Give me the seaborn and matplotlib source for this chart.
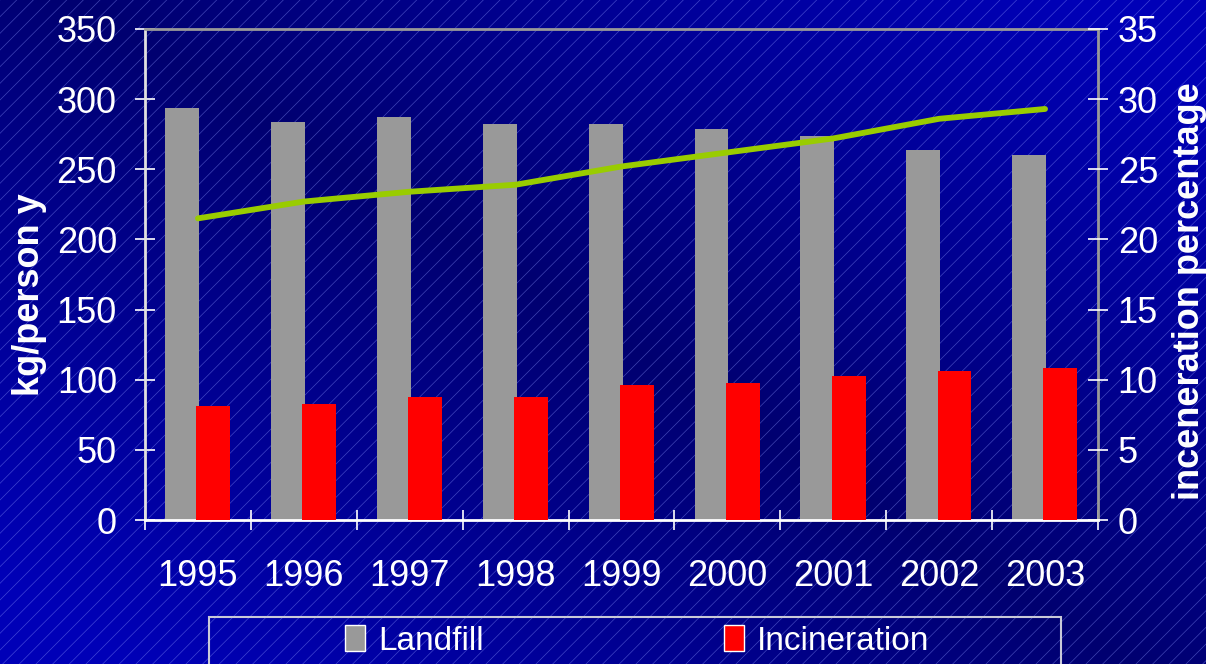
"""Landfill vs incineration per person, with incineration share on a second axis."""

import numpy as np
import pandas as pd
import matplotlib.pyplot as plt
from matplotlib.patches import Rectangle, Patch
import seaborn as sns

years = ["1995", "1996", "1997", "1998", "1999", "2000", "2001", "2002", "2003"]
landfill = [294, 284, 287, 282, 282, 279, 274, 264, 260]
incineration = [81, 83, 88, 88, 96, 98, 103, 106, 108]
incin_pct = [21.5, 22.7, 23.4, 23.9, 25.2, 26.2, 27.2, 28.6, 29.3]

sns.set_theme(style="white")
plt.rcParams["font.family"] = ["Liberation Sans", "DejaVu Sans"]
plt.rcParams["hatch.linewidth"] = 0.5

fig = plt.figure(figsize=(12.06, 6.64), dpi=100)

# background: dark blue gradient with thin diagonal lines
bg = fig.add_axes([0, 0, 1, 1], zorder=-10)
yy, xx = np.mgrid[0:1:200j, 0:1:360j]
u = np.abs((xx - 0.5) * 0.8 + (yy - 0.5) * 0.7)
shade = 0.44 + 0.42 * u
img = np.zeros(yy.shape + (3,))
img[..., 2] = np.clip(shade, 0, 0.72)
bg.imshow(img, aspect="auto", extent=(0, 1, 0, 1), origin="lower")
bg.add_patch(Rectangle((0, 0), 1, 1, transform=bg.transAxes, facecolor="none",
                       edgecolor=(0.55, 0.6, 1.0, 0.45), hatch="//", linewidth=0))
bg.set_axis_off()

ax = fig.add_axes([145 / 1206, 1 - 520 / 664, 953 / 1206, 491 / 664])
ax.set_facecolor("none")

idx = np.arange(len(years))
df = pd.DataFrame({"pos": idx, "landfill": landfill, "incineration": incineration, "pct": incin_pct})

sns.barplot(x=df["pos"] - 0.15, y=df["landfill"], native_scale=True, width=0.32,
            color="#999999", saturation=1, edgecolor="none", ax=ax, zorder=2)
sns.barplot(x=df["pos"] + 0.145, y=df["incineration"], native_scale=True, width=0.32,
            color="#ff0000", saturation=1, edgecolor="none", ax=ax, zorder=3)

ax.set_xlim(-0.5, 8.5)
ax.set_ylim(0, 350)
ax.set_yticks(range(0, 351, 50))
ax.set_xticks(idx)
ax.set_xticklabels(years)
ax.set_xticks(np.arange(-0.5, 9, 1), minor=True)
ax.tick_params(axis="x", which="major", length=0, pad=28, labelsize=26, labelcolor="white")
ax.tick_params(axis="x", which="minor", direction="inout", length=14.4, width=1.2, color="white", bottom=True)
ax.tick_params(axis="y", direction="inout", length=14.4, width=1.2, color="white",
               labelsize=26, labelcolor="white", pad=13, left=True)
ax.set_xlabel("")
ax.set_ylabel("kg/person y", fontsize=26, fontweight="bold", color="white", va="center")
ax.yaxis.set_label_coords(-0.1207, 0.46)

for side, col in [("left", "#e0e0e0"), ("bottom", "white"), ("top", "#999999"), ("right", "#999999")]:
    ax.spines[side].set_visible(True)
    ax.spines[side].set_color(col)
    ax.spines[side].set_linewidth(2)

ax2 = ax.twinx()
sns.lineplot(x=df["pos"], y=df["pct"], color="#99cc00", linewidth=4.2,
             solid_capstyle="round", ax=ax2, zorder=4)
ax2.set_ylim(0, 35)
ax2.set_yticks(range(0, 36, 5))
ax2.tick_params(axis="y", direction="inout", length=14.4, width=1.2, color="white",
                labelsize=26, labelcolor="white", pad=7, right=True)
ax2.set_ylabel("inceneration percentage", fontsize=26, fontweight="bold", color="white",
               rotation=90, va="center")
ax2.yaxis.set_label_coords(1.0955, 0.467)
ax2.set_xlabel("")
for s in ax2.spines.values():
    s.set_visible(False)

# legend box at the bottom
fig.patches.append(Rectangle((209 / 1206, -0.05), 852 / 1206, 0.05 + 47 / 664,
                             transform=fig.transFigure, facecolor="none",
                             edgecolor="#c8c8d8", linewidth=1.5))
handles = [Patch(facecolor="#999999", label="Landfill"), Patch(facecolor="#ff0000", label="Incineration")]
fig.legend(handles=handles, loc="center", bbox_to_anchor=(637 / 1206, 1 - 641 / 664), ncol=2,
           frameon=False, fontsize=24, labelcolor="white", handlelength=0.6, handleheight=0.8,
           handletextpad=0.4, columnspacing=7.2)

fig.savefig("out.png", dpi=100)
